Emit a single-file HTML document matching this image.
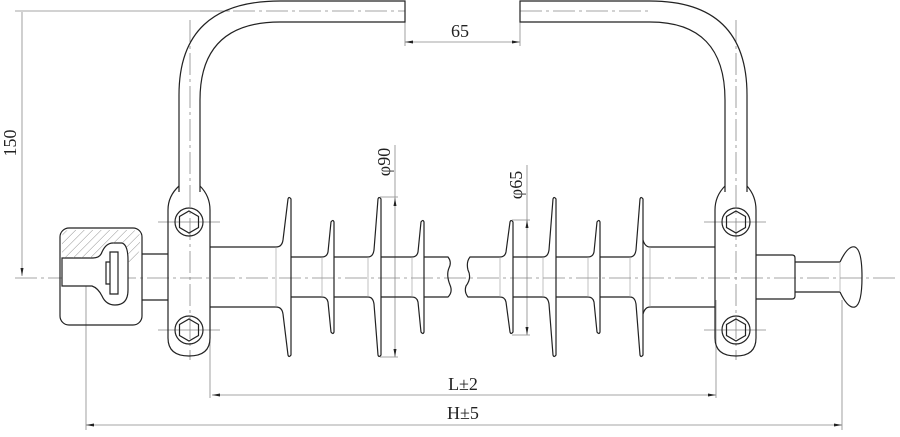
<!DOCTYPE html>
<html><head><meta charset="utf-8"><style>
html,body{margin:0;padding:0;background:#fff;}
svg{display:block}
text{font-family:"Liberation Serif",serif;fill:#222;font-size:18px}
</style></head><body>
<svg width="900" height="437" viewBox="0 0 900 437" xmlns="http://www.w3.org/2000/svg">
<defs>
<pattern id="h" width="6" height="6" patternUnits="userSpaceOnUse" patternTransform="rotate(45)">
<line x1="0" y1="0" x2="0" y2="6" stroke="#777" stroke-width="0.8"/></pattern>
<marker id="a" markerWidth="8" markerHeight="6" refX="8" refY="3" orient="auto-start-reverse" markerUnits="userSpaceOnUse">
<path d="M0,1.5 L8,3 L0,4.5z" fill="#222"/></marker>
</defs>
<g fill="none" stroke="#888" stroke-width="0.8">
<line x1="15" y1="278" x2="898" y2="278" stroke-dasharray="22,4,3,4"/>
<line x1="190" y1="20" x2="190" y2="360" stroke-dasharray="22,4,3,4"/>
<line x1="736" y1="20" x2="736" y2="360" stroke-dasharray="22,4,3,4"/>
<path d="M200 11 L405 11 M520 11 L650 11" stroke-dasharray="22,4,3,4"/>
<line x1="22" y1="12" x2="22" y2="276" marker-end="url(#a)"/>
<line x1="15" y1="11" x2="230" y2="11"/>
<line x1="405" y1="22" x2="405" y2="46"/>
<line x1="520" y1="22" x2="520" y2="46"/>
<line x1="405" y1="42" x2="520" y2="42" marker-start="url(#a)" marker-end="url(#a)"/>
<line x1="395" y1="145" x2="395" y2="357" marker-end="url(#a)"/>
<line x1="395" y1="200" x2="395" y2="198" marker-end="url(#a)"/>
<line x1="380" y1="197" x2="398" y2="197"/><line x1="380" y1="357" x2="398" y2="357"/>
<line x1="527" y1="165" x2="527" y2="335" marker-end="url(#a)"/>
<line x1="527" y1="225" x2="527" y2="220" marker-end="url(#a)"/>
<line x1="512" y1="220" x2="530" y2="220"/><line x1="512" y1="335" x2="530" y2="335"/>
<line x1="210" y1="300" x2="210" y2="398"/>
<line x1="716" y1="300" x2="716" y2="398"/>
<line x1="212" y1="395" x2="716" y2="395" marker-start="url(#a)" marker-end="url(#a)"/>
<line x1="86" y1="260" x2="86" y2="430"/>
<line x1="842" y1="300" x2="842" y2="430"/>
<line x1="86" y1="425" x2="842" y2="425" marker-start="url(#a)" marker-end="url(#a)"/>
<path d="M158 222H220M158 330H220M704 222H766M704 330H766"/>
</g>
<g fill="none" stroke="#222" stroke-width="1.2">
<path d="M179 192 L179 95 Q179 1 280 1 L405 1 L405 22 L280 22 Q200 22 200 100 L200 192"/>
<path d="M725 192 L725 100 Q725 22 650 22 L520 22 L520 1 L650 1 Q747 1 747 95 L747 192"/>
<path d="M179 186 Q168 196 168 210 L168 338 Q168 356 189 356 Q210 356 210 338 L210 210 Q210 196 200 186"/>
<path d="M725 186 Q715 196 715 210 L715 338 Q715 356 736 356 Q756 356 756 338 L756 210 Q756 196 747 186"/>
<circle cx="189" cy="222" r="14"/><circle cx="189" cy="330" r="14"/>
<circle cx="736" cy="222" r="14"/><circle cx="736" cy="330" r="14"/>
<path d="M189 211l9.5 5.5v11l-9.5 5.5l-9.5-5.5v-11z M189 319l9.5 5.5v11l-9.5 5.5l-9.5-5.5v-11z M736 211l9.5 5.5v11l-9.5 5.5l-9.5-5.5v-11z M736 319l9.5 5.5v11l-9.5 5.5l-9.5-5.5v-11z"/>
<rect x="60" y="228" width="82" height="97" rx="9" fill="none"/>
<path d="M62 258 L93 258 Q100 258 102 252 Q106 243 113 243 L122 243 Q128 245 128 260 L128 290 Q128 305 115 305 Q106 305 102 296 Q98 288 92 286 L62 286 Z" fill="#fff"/>
<path d="M62 238 Q62 230 70 230 L132 230 Q140 230 140 238 L140 248 Q138 258 130 262 L128 262 L128 250 Q125 243 116 243 Q108 243 102 252 Q99 258 92 258 L62 258Z" fill="url(#h)" stroke="none"/>
<path d="M110 252h8v42h-8z M106 262h4v22h-4z"/>
<path d="M142 254 L168 254 M142 300 L168 300"/>
<path d="M210 247 L276 247 Q282 247 283 240 M210 307 L276 307 Q282 307 283 314"/>
<path d="M715 247 L650 247 Q645 247 643 240 M715 307 L650 307 Q645 307 643 314"/>
<path d="M756 255 L792 255 Q795 255 795 258 L795 296 Q795 299 792 299 L756 299"/>
<path d="M795 262 L840 262 M795 292 L840 292 M840 262 Q848 245 855 247 Q862 250 862 277 Q862 304 855 307 Q848 309 840 292"/>
<path d="M283 240 L288 199 Q289 196 291 199 L291 355 Q289 358 288 355 L283 314"/>
<path d="M291 257 L322 257 Q327 257 328 252 L331 222 Q333 219 334 222 L334 332 Q333 335 331 332 L328 302 Q327 297 322 297 L291 297"/>
<path d="M334 257 L368 257 Q373 257 374 250 L378 199 Q379 196 381 199 L381 355 Q379 358 378 355 L374 304 Q373 297 368 297 L334 297"/>
<path d="M381 257 L412 257 Q417 257 418 252 L421 222 Q423 219 424 222 L424 332 Q423 335 421 332 L418 302 Q417 297 412 297 L381 297"/>
<path d="M424 257 L448 257 Q452 262 449 268 Q446 275 450 285 Q453 292 448 297 L424 297"/>
<path d="M470 257 Q466 262 468 270 Q472 278 466 286 Q464 292 468 297 L500 297 Q505 297 506 302 L510 332 Q511 335 513 332 L513 222 Q511 219 510 222 L506 252 Q505 257 500 257 Z"/>
<path d="M513 257 L543 257 Q548 257 549 250 L553 199 Q554 196 556 199 L556 355 Q554 358 553 355 L549 304 Q548 297 543 297 L513 297"/>
<path d="M556 257 L588 257 Q593 257 594 252 L597 222 Q599 219 600 222 L600 332 Q599 335 597 332 L594 302 Q593 297 588 297 L556 297"/>
<path d="M600 257 L630 257 Q635 257 636 250 L640 199 Q641 196 643 199 L643 355 Q641 358 640 355 L636 304 Q635 297 630 297 L600 297"/>
</g>
<g fill="none" stroke="#999" stroke-width="0.6">
<path d="M322 257V297M368 257V297M412 257V297M500 257V297M543 257V297M588 257V297M630 257V297M276 247V307M650 247V307M840 262V292"/>
</g>
<text x="460" y="37" text-anchor="middle">65</text>
<text transform="translate(16,143) rotate(-90)" text-anchor="middle">150</text>
<text transform="translate(390,162) rotate(-90)" text-anchor="middle">φ90</text>
<text transform="translate(522,185) rotate(-90)" text-anchor="middle">φ65</text>
<text x="463" y="390" text-anchor="middle">L±2</text>
<text x="463" y="419" text-anchor="middle">H±5</text>
</svg>
</body></html>
